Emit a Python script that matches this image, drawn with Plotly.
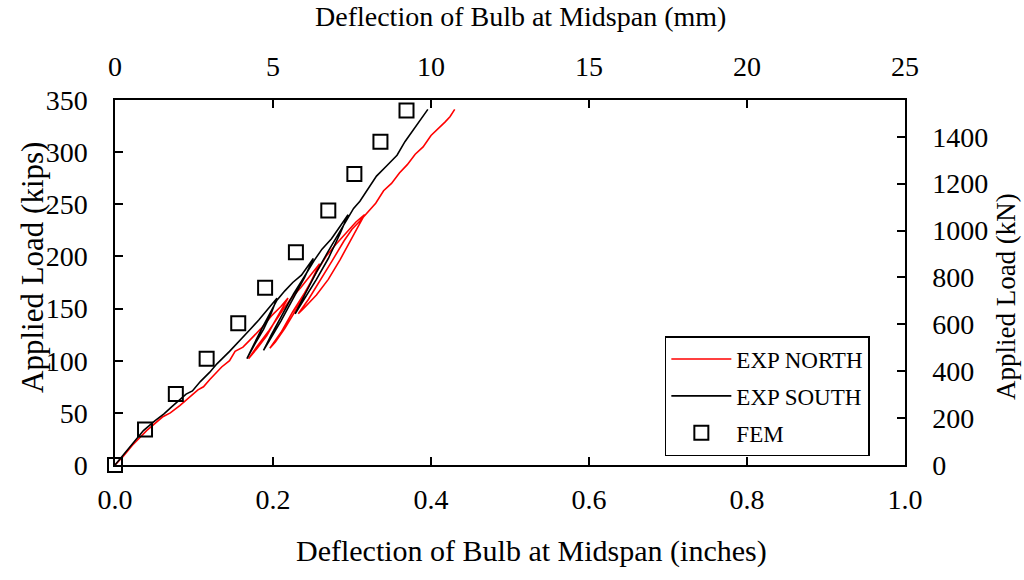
import plotly.graph_objects as go

# ---- data (deflection in inches, load in kips) ----
north_x = [0.0, 0.010, 0.022, 0.040, 0.060, 0.070, 0.082, 0.091, 0.105, 0.112, 0.120, 0.135, 0.145,
           0.152, 0.162, 0.171,
           0.185, 0.198, 0.210, 0.219,
           0.205, 0.192, 0.180, 0.169,
           0.180, 0.195, 0.210, 0.222, 0.235, 0.248, 0.259,
           0.245, 0.230, 0.215, 0.203, 0.196,
           0.210, 0.225, 0.240, 0.255, 0.268, 0.280, 0.292, 0.305, 0.316,
           0.300, 0.285, 0.270, 0.255, 0.240, 0.232,
           0.245, 0.260, 0.275, 0.290, 0.300, 0.310, 0.320, 0.330, 0.340, 0.350, 0.360,
           0.370, 0.380, 0.390, 0.400, 0.410, 0.418, 0.424, 0.430]
north_y = [0, 8, 19, 33, 46, 50, 57, 63, 72, 75, 82, 94, 100,
           109, 113, 120,
           131, 143, 152, 160,
           141, 124, 112, 102,
           114, 129, 146, 159, 170, 183, 193,
           171, 150, 131, 118, 112,
           127, 147, 165, 185, 201, 212, 222, 233, 240,
           218, 197, 178, 163, 151, 145,
           159, 177, 196, 215, 226, 234, 242, 251, 263, 270, 280,
           288, 298, 305, 316, 323, 329, 334, 341]

south_x = [0.0, 0.010, 0.020, 0.036, 0.050, 0.062, 0.072, 0.090, 0.098, 0.108, 0.120, 0.129, 0.145,
           0.158, 0.171,
           0.182, 0.192, 0.200, 0.205,
           0.198, 0.188, 0.177, 0.167,
           0.176, 0.186, 0.196, 0.205, 0.215, 0.225, 0.236, 0.245, 0.251,
           0.240, 0.226, 0.210, 0.196, 0.188,
           0.198, 0.212, 0.226, 0.240, 0.252, 0.262, 0.274, 0.285, 0.295,
           0.285, 0.270, 0.255, 0.240, 0.228,
           0.240, 0.255, 0.270, 0.283, 0.295, 0.302, 0.310, 0.320, 0.331, 0.344,
           0.357, 0.367, 0.378, 0.388, 0.396]
south_y = [0, 9, 18, 33, 42, 49, 56, 68, 71, 80, 89, 97, 109,
           120, 130,
           139, 148, 155, 160,
           146, 130, 116, 102,
           116, 131, 146, 158, 167, 175, 182, 192, 198,
           180, 160, 138, 120, 110,
           125, 145, 164, 181, 196, 207, 217, 229, 240,
           222, 198, 178, 160, 145,
           163, 185, 205, 222, 238, 246, 253, 265, 277, 287,
           297, 310, 322, 333, 341]

fem_x = [0.0, 0.038, 0.077, 0.116, 0.156, 0.190, 0.229, 0.270, 0.303, 0.336, 0.369]
fem_y = [0, 34, 68, 102, 136, 170, 204, 244, 279, 310, 340]

x_ticks = [0.0, 0.2, 0.4, 0.6, 0.8, 1.0]
y_ticks = [0, 50, 100, 150, 200, 250, 300, 350]
mm_ticks = [0, 5, 10, 15, 20, 25]
kn_ticks = [0, 200, 400, 600, 800, 1000, 1200, 1400]

FONT = "Liberation Serif, Times New Roman, serif"

fig = go.Figure()
fig.add_trace(go.Scatter(x=north_x, y=north_y, mode="lines", name="EXP NORTH",
                         line=dict(color="#ff0000", width=1.6), legendgroup="a"))
fig.add_trace(go.Scatter(x=south_x, y=south_y, mode="lines", name="EXP SOUTH",
                         line=dict(color="#000000", width=1.6), legendgroup="b"))
fig.add_trace(go.Scatter(x=fem_x, y=fem_y, mode="markers", name="FEM", cliponaxis=False,
                         marker=dict(symbol="square-open", size=14, color="#000000",
                                     line=dict(width=2, color="#000000")), legendgroup="c"))
# secondary axes carrier
fig.add_trace(go.Scatter(x=[None], y=[None], xaxis="x2", yaxis="y2", showlegend=False,
                         hoverinfo="skip"))

axis_common = dict(showgrid=False, zeroline=False, showline=True, linecolor="black",
                   linewidth=1.5, ticks="inside", ticklen=8, tickwidth=1.5, tickcolor="black",
                   tickfont=dict(family=FONT, size=28, color="black"))

fig.update_layout(
    width=1024, height=580,
    margin=dict(l=115, r=119, t=100, b=115),
    paper_bgcolor="white", plot_bgcolor="white",
    font=dict(family=FONT, color="black"),
    xaxis=dict(range=[0, 1], tickvals=x_ticks, ticktext=[f"{v:.1f}" for v in x_ticks],
               side="bottom", ticklabelstandoff=9, **axis_common),
    xaxis2=dict(range=[0, 25], tickvals=mm_ticks, ticktext=[str(v) for v in mm_ticks],
                overlaying="x", side="top", anchor="y", ticklabelstandoff=11, **axis_common),
    yaxis=dict(range=[0, 350], tickvals=y_ticks, ticktext=[str(v) for v in y_ticks],
               side="left", ticklabelstandoff=20, **axis_common),
    yaxis2=dict(range=[0, 350 * 4.448], tickvals=kn_ticks, ticktext=[str(v) for v in kn_ticks],
                overlaying="y", side="right", anchor="x", ticklabelstandoff=20, **axis_common),
    legend=dict(x=0.696, y=0.189, xanchor="left", yanchor="middle",
                bgcolor="white", bordercolor="black", borderwidth=1.5, itemwidth=60,
                font=dict(family=FONT, size=23, color="black"), tracegroupgap=4),
    showlegend=True,
    annotations=[
        dict(text="Deflection of Bulb at Midspan (inches)", xref="paper", yref="paper",
             x=0.5266, y=-0.2356, xanchor="center", yanchor="middle",
             showarrow=False, font=dict(size=30)),
        dict(text="Deflection of Bulb at Midspan (mm)", xref="paper", yref="paper",
             x=0.5127, y=1.2274, xanchor="center", yanchor="middle",
             showarrow=False, font=dict(size=28)),
        dict(text="Applied Load (kips)", xref="paper", yref="paper", textangle=-90,
             x=-0.1038, y=0.5425, xanchor="center", yanchor="middle",
             showarrow=False, font=dict(size=31)),
        dict(text="Applied Load (kN)", xref="paper", yref="paper", textangle=-90,
             x=(1006 - 115) / 790, y=0.46, xanchor="center", yanchor="middle",
             showarrow=False, font=dict(size=27)),
    ],
)

fig.write_html("out.html")
